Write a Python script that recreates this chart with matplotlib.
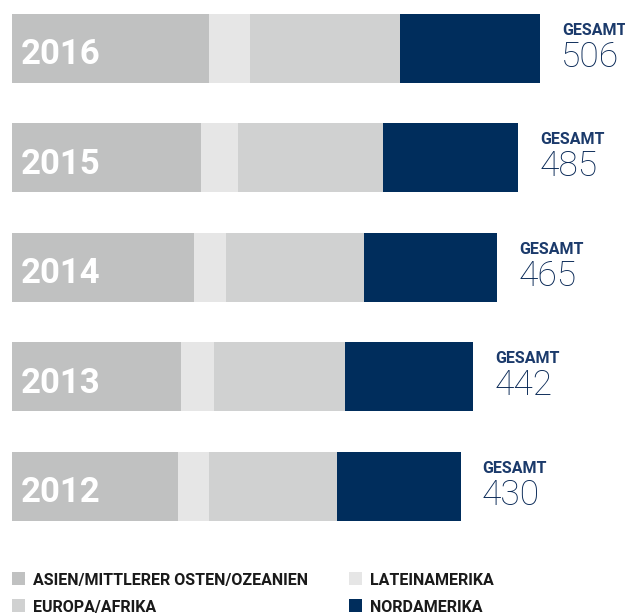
import matplotlib
matplotlib.use('Agg')
import matplotlib.pyplot as plt
from matplotlib.patches import Rectangle

# data (Mitarbeiter je Region)
years = ['2016', '2015', '2014', '2013', '2012']
asien = [189, 181, 174, 162, 159]
latein = [39, 36, 31, 32, 30]
europa = [144, 139, 132, 125, 122]
nord = [134, 129, 128, 123, 119]
gesamt = [506, 485, 465, 442, 430]

labels = ['ASIEN/MITTLERER OSTEN/OZEANIEN', 'LATEINAMERIKA', 'EUROPA/AFRIKA', 'NORDAMERIKA']
colors = ['#c0c1c1', '#e6e6e6', '#d0d1d1', '#002d5c']
navy = '#1b3a6b'

fam = ['Roboto', 'DejaVu Sans']

W, H = 625, 615
fig = plt.figure(figsize=(W / 100, H / 100), dpi=100)
ax = fig.add_axes([12 / W, 0, (W - 12) / W, 1])
scale = 528 / 506  # px per unit
ax.set_xlim(0, (W - 12) / scale)
ax.set_ylim(5.178, -0.443)
ax.axis('off')

y = range(len(years))
left = [0] * len(years)
for vals, c in zip([asien, latein, europa, nord], colors):
    ax.barh(y, vals, left=left, height=0.63, color=c, linewidth=0)
    left = [a + b for a, b in zip(left, vals)]

for i, yr in enumerate(years):
    ax.annotate(yr, (0, i), xytext=(9, -16), textcoords='offset pixels',
                color='white', fontsize=25, fontweight='bold', family=fam,
                va='baseline', ha='left')
    ax.annotate('GESAMT', (gesamt[i], i), xytext=(22, 13.5), textcoords='offset pixels',
                color=navy, fontsize=11.5, fontweight='bold', family=fam,
                va='baseline', ha='left')
    # Gesamtzahl, duenner Schnitt
    ax.annotate(str(gesamt[i]), (gesamt[i], i), xytext=(21, -18.5), textcoords='offset pixels',
                color='#082856', fontsize=25.5, fontweight='light', family=fam,
                va='baseline', ha='left')

# legend
pos = [(12, 585), (349, 585), (12, 612), (349, 612)]
for (px, py), lab, c in zip(pos, labels, colors):
    fig.add_artist(Rectangle((px / W, 1 - py / H), 13 / W, 13 / H,
                             transform=fig.transFigure, color=c, linewidth=0))
    fig.text((px + 21) / W, 1 - py / H, lab, fontsize=11.5, fontweight='bold',
             family=fam, color='#1a1a1a', va='baseline', ha='left')

fig.savefig('out.png', dpi=100)
